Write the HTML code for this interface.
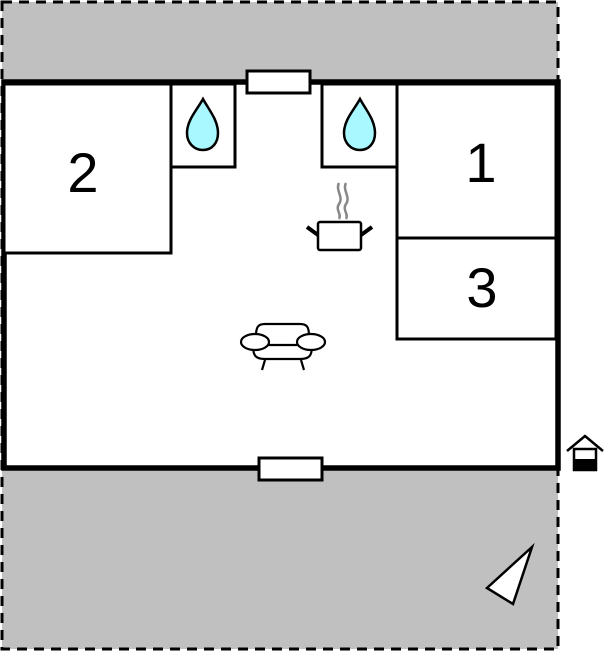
<!DOCTYPE html>
<html><head><style>html,body{margin:0;padding:0;background:#fff}svg{display:block}</style></head>
<body>
<svg width="606" height="652" viewBox="0 0 606 652" xmlns="http://www.w3.org/2000/svg">
<rect x="2" y="2" width="556" height="647" fill="#c0c0c0" stroke="#000" stroke-width="3" stroke-dasharray="10,7"/>
<rect x="4" y="82" width="554" height="386" fill="#fff" stroke="#000" stroke-width="5.5"/>
<g fill="#fff" stroke="#000" stroke-width="3">
<rect x="4" y="84" width="167" height="169"/>
<rect x="171" y="84" width="64" height="83"/>
<rect x="322" y="84" width="75" height="83"/>
<rect x="397" y="84" width="159" height="154"/>
<rect x="397" y="238" width="159" height="101"/>
<rect x="247" y="71" width="63" height="22"/>
<rect x="259" y="458" width="63" height="22"/>
</g>
<g fill="#aaf8ff" stroke="#000" stroke-width="2.5">
<path d="M203,99 C197,110 187,120 187,133 C187,143 194,150 203,150 C212,150 218,143 218,133 C218,120 209,110 203,99Z"/>
<path d="M360,99 C354,110 344,120 344,133 C344,143 351,150 360,150 C369,150 375,143 375,133 C375,120 366,110 360,99Z"/>
</g>
<g font-family="Liberation Sans, sans-serif" font-size="56" text-anchor="middle" fill="#000">
<text x="83" y="192">2</text>
<text x="481" y="182">1</text>
<text x="482" y="307">3</text>
</g>
<g fill="none" stroke="#888" stroke-width="2.5">
<path d="M339,183 C335,190 344,197 339,204 C335,210 342,214 339,219"/>
<path d="M346,183 C342,190 351,197 346,204 C342,210 349,214 346,219"/>
</g>
<g stroke="#000" stroke-width="2.5" fill="#fff">
<rect x="318" y="222" width="43" height="28" rx="2"/>
<line x1="307" y1="227" x2="318" y2="235" stroke-width="4"/>
<line x1="372" y1="227" x2="361" y2="235" stroke-width="4"/>
</g>
<g stroke="#000" stroke-width="2.2" fill="#fff">
<path d="M256,336 C256,327 258,324 265,324 L300,324 C307,324 309,327 309,336"/>
<path d="M253,346 C253,356 256,359 265,359 L300,359 C309,359 312,356 312,346"/>
<line x1="263" y1="345" x2="302" y2="345"/>
<ellipse cx="255" cy="342" rx="14" ry="8"/>
<ellipse cx="311" cy="342" rx="14" ry="8"/>
<line x1="265" y1="360" x2="262" y2="370"/>
<line x1="301" y1="360" x2="304" y2="370"/>
</g>
<polygon points="532,547 487,588 513,604" fill="#fff" stroke="#000" stroke-width="2.5"/>
<g stroke="#000" stroke-width="2.5" fill="none">
<polyline points="567,451 585,436 603,451"/>
<rect x="574" y="449" width="22" height="21" fill="#fff"/>
</g>
<rect x="574" y="459" width="22" height="11" fill="#000"/>
</svg>
</body></html>
